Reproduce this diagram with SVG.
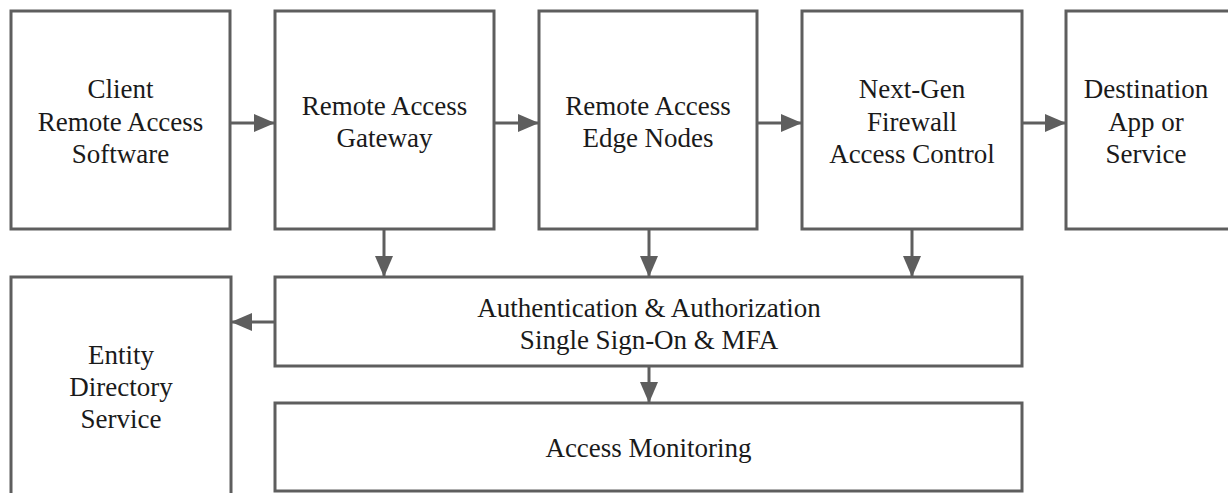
<svg xmlns="http://www.w3.org/2000/svg" width="1228" height="493" viewBox="0 0 1228 493">
<style>
.box{fill:#fff;stroke:#5e5e5e;stroke-width:3}
.t{font-family:"Liberation Serif","Times New Roman",serif;font-size:27px;fill:#1a1a1a;text-anchor:middle}
.c{stroke:#5e5e5e;stroke-width:3;fill:none;marker-end:url(#ah)}
</style>
<defs>
<marker id="ah" markerUnits="userSpaceOnUse" markerWidth="21" markerHeight="18" refX="20" refY="9" orient="auto" viewBox="0 0 21 18">
<path d="M0,0 L21,9 L0,18 z" fill="#5e5e5e"/>
</marker>
</defs>
<rect width="1228" height="493" fill="#fff"/>
<g id="client"><rect class="box" x="11" y="11" width="219" height="218"/>
<text class="t" x="120.5" y="97.5">Client</text><text class="t" x="120.5" y="130.5">Remote Access</text><text class="t" x="120.5" y="163">Software</text></g>
<g id="gateway"><rect class="box" x="275" y="11" width="219" height="218"/>
<text class="t" x="384.5" y="115">Remote Access</text><text class="t" x="384.5" y="147">Gateway</text></g>
<g id="edge"><rect class="box" x="539" y="11" width="218" height="218"/>
<text class="t" x="648" y="115">Remote Access</text><text class="t" x="648" y="147">Edge Nodes</text></g>
<g id="firewall"><rect class="box" x="802" y="11" width="220" height="218"/>
<text class="t" x="912" y="97.5">Next-Gen</text><text class="t" x="912" y="130.5">Firewall</text><text class="t" x="912" y="163">Access Control</text></g>
<g id="destination"><rect class="box" x="1066" y="11" width="180" height="218"/>
<text class="t" x="1146" y="97.5">Destination</text><text class="t" x="1146" y="130.5">App or</text><text class="t" x="1146" y="163">Service</text></g>
<g id="auth"><rect class="box" x="275" y="277" width="747" height="89"/>
<text class="t" x="649" y="316.5">Authentication &amp; Authorization</text><text class="t" x="649" y="348.5">Single Sign-On &amp; MFA</text></g>
<g id="entity"><rect class="box" x="11" y="277" width="220" height="240"/>
<text class="t" x="121" y="364">Entity</text><text class="t" x="121" y="396">Directory</text><text class="t" x="121" y="428">Service</text></g>
<g id="monitoring"><rect class="box" x="275" y="403" width="747" height="88"/>
<text class="t" x="648.5" y="457">Access Monitoring</text></g>
<g id="connectors">
<line class="c" x1="230" y1="123" x2="274" y2="123"/>
<line class="c" x1="494" y1="123" x2="538" y2="123"/>
<line class="c" x1="757" y1="123" x2="801" y2="123"/>
<line class="c" x1="1022" y1="123" x2="1065" y2="123"/>
<line class="c" x1="384" y1="229" x2="384" y2="276"/>
<line class="c" x1="649" y1="229" x2="649" y2="276"/>
<line class="c" x1="912" y1="229" x2="912" y2="276"/>
<line class="c" x1="275" y1="322" x2="232" y2="322"/>
<line class="c" x1="649" y1="366" x2="649" y2="402"/>
</g>
</svg>
